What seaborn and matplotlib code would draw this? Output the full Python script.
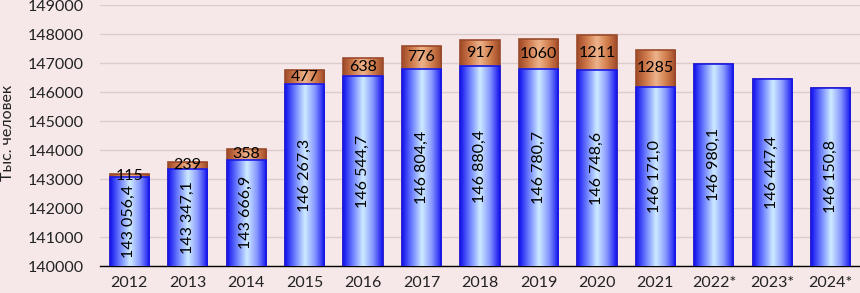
import numpy as np
import pandas as pd
import matplotlib
matplotlib.use("Agg")
import matplotlib.pyplot as plt
import seaborn as sns
from matplotlib.colors import LinearSegmentedColormap

# Data
years = ['2012', '2013', '2014', '2015', '2016', '2017', '2018', '2019',
         '2020', '2021', '2022*', '2023*', '2024*']
base = [143056.4, 143347.1, 143666.9, 146267.3, 146544.7, 146804.4, 146880.4,
        146780.7, 146748.6, 146171.0, 146980.1, 146447.4, 146150.8]
extra = [115, 239, 358, 477, 638, 776, 917, 1060, 1211, 1285, 0, 0, 0]

YMIN, YMAX = 140000, 149000
BG = '#F6E8E8'

df = pd.DataFrame({'year': years, 'base': base, 'extra': extra})
df['total'] = df['base'] + df['extra']

sns.set_style("white")
plt.rcParams['font.family'] = ['Lato', 'DejaVu Sans']

fig = plt.figure(figsize=(8.6, 2.93), dpi=100, facecolor=BG)
ax = fig.add_axes([100 / 860, 27 / 293, 760 / 860, 261 / 293])
ax.set_facecolor(BG)

# Orange totals first, then blue base on top
sns.barplot(data=df, x='year', y='total', color='#C87040', width=0.67,
            ax=ax, zorder=2)
n_orange = len(ax.patches)
sns.barplot(data=df, x='year', y='base', color='#3030F0', width=0.67,
            ax=ax, zorder=4)

blue_cmap = LinearSegmentedColormap.from_list(
    'blue', ['#1212EE', '#6E80FF', '#CFEDFF', '#8898FF', '#1212EE'])
orange_cmap = LinearSegmentedColormap.from_list(
    'orange', ['#A04A28', '#CF7A4C', '#EEB48C', '#D3804F', '#A04A28'])
grad = np.linspace(0, 1, 128).reshape(1, -1)

for k, p in enumerate(ax.patches):
    orange = k < n_orange
    x0, w = p.get_x(), p.get_width()
    y1 = p.get_y() + p.get_height()
    if y1 <= YMIN:
        continue
    z = 2 if orange else 4
    p.set_facecolor('none')
    p.set_edgecolor('#9A4A2A' if orange else '#1A1AE6')
    p.set_linewidth(1.2)
    p.set_zorder(z + 0.5)
    im = ax.imshow(grad, extent=[x0, x0 + w, YMIN, y1], aspect='auto',
                   cmap=orange_cmap if orange else blue_cmap,
                   zorder=z, interpolation='bicubic')
    im.set_clip_path(p)

ax.set_xlim(-0.5, len(years) - 0.5)
ax.set_ylim(YMIN, YMAX)
ax.set_yticks(np.arange(YMIN, YMAX + 1, 1000))
ax.set_yticklabels([str(v) for v in range(YMIN, YMAX + 1, 1000)])
ax.yaxis.grid(True, color='#DCCCCC', linewidth=1)
ax.set_axisbelow(True)
for s in ['top', 'right', 'left']:
    ax.spines[s].set_visible(False)
ax.spines['bottom'].set_color('black')
ax.spines['bottom'].set_linewidth(1)
ax.tick_params(axis='y', length=0, pad=12, labelsize=11.5, colors='#222222')
ax.tick_params(axis='x', length=0, pad=7, labelsize=11.5, colors='#222222')
ax.set_xlabel('')
ax.set_ylabel('')
fig.text(8 / 860, 1 - 133 / 293, 'Тыс. человек', rotation=90,
         ha='center', va='center', fontsize=11.5, color='#222222')

# Value labels
for i, row in df.iterrows():
    txt = f"{row['base']:,.1f}".replace(',', ' ').replace('.', ',')
    ax.text(i, (YMIN + row['base']) / 2, txt, rotation=90, ha='center',
            va='center', fontsize=11.5, color='black', zorder=6)
    if row['extra'] > 0:
        ax.text(i, row['base'] + row['extra'] / 2, str(int(row['extra'])),
                ha='center', va='center', fontsize=11.5, color='black',
                zorder=6)

fig.savefig('out.png', dpi=100, facecolor=BG)
